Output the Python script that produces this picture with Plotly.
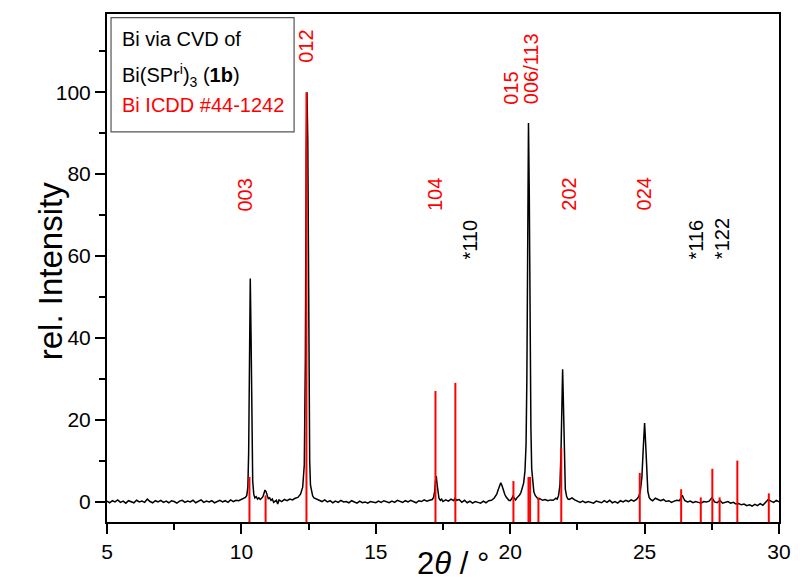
import plotly.graph_objects as go

# ---------------- data ----------------
two_theta = [
    5.0, 5.1, 5.2, 5.3, 5.4, 5.5, 5.6, 5.7, 5.8, 5.9, 6.0, 6.1, 6.2, 6.3, 6.4, 6.5, 6.6, 6.7, 6.8, 6.9,
    7.0, 7.1, 7.2, 7.3, 7.4, 7.5, 7.6, 7.7, 7.8, 7.9, 8.0, 8.1, 8.2, 8.3, 8.4, 8.5, 8.6, 8.7, 8.8, 8.9,
    9.0, 9.1, 9.2, 9.3, 9.4, 9.5, 9.6, 9.7, 9.8, 9.9, 10.0, 10.1,
    10.15, 10.2, 10.24, 10.27, 10.30, 10.33, 10.36, 10.39, 10.42, 10.46, 10.5, 10.55, 10.6, 10.65, 10.7,
    10.75, 10.8, 10.84, 10.88, 10.92, 10.96, 11.0, 11.05, 11.1, 11.15, 11.2, 11.3, 11.35, 11.4, 11.5,
    11.6, 11.7, 11.8, 11.9, 12.0, 12.1, 12.2, 12.28, 12.34, 12.38, 12.41, 12.44, 12.47, 12.50, 12.54,
    12.57, 12.61, 12.65, 12.7, 12.8,
    12.9, 13.0, 13.1, 13.2, 13.3, 13.4, 13.5, 13.6, 13.7, 13.8, 13.9, 14.0, 14.1, 14.2, 14.3, 14.4,
    14.5, 14.6, 14.7, 14.8, 14.9, 15.0, 15.1, 15.2, 15.3, 15.4, 15.5, 15.6, 15.7, 15.8, 15.9, 16.0,
    16.1, 16.2, 16.3, 16.4, 16.5, 16.6, 16.7, 16.8, 16.9, 17.0, 17.1,
    17.15, 17.19, 17.22, 17.25, 17.28, 17.31, 17.35, 17.4, 17.45, 17.5, 17.6, 17.7, 17.8, 17.9, 17.95,
    18.0, 18.1, 18.2, 18.3, 18.4, 18.5, 18.6, 18.7, 18.8, 18.9, 19.0, 19.1, 19.2, 19.3, 19.4, 19.5,
    19.55, 19.6, 19.65, 19.7, 19.75, 19.8, 19.85, 19.9, 19.95, 20.0, 20.05, 20.1, 20.15, 20.2, 20.25,
    20.3, 20.35, 20.4, 20.45, 20.5, 20.55, 20.59, 20.62, 20.65, 20.68, 20.71, 20.74, 20.77, 20.8, 20.84,
    20.88, 20.93, 21.0, 21.05, 21.1, 21.2, 21.3, 21.4, 21.5, 21.6, 21.7, 21.75, 21.8, 21.85, 21.89,
    21.92, 21.95, 21.98, 22.01, 22.05, 22.1, 22.15,
    22.2, 22.3, 22.4, 22.5, 22.6, 22.7, 22.8, 22.9, 23.0, 23.1, 23.2, 23.3, 23.4, 23.5, 23.6, 23.7,
    23.8, 23.9, 24.0, 24.1, 24.2, 24.3, 24.4, 24.5, 24.6, 24.7, 24.78, 24.84, 24.9, 24.95, 25.0, 25.04,
    25.08, 25.12, 25.17, 25.22, 25.3, 25.4, 25.5, 25.6, 25.7, 25.8, 25.9, 26.0, 26.1, 26.2, 26.3,
    26.35, 26.4, 26.45, 26.5, 26.6, 26.7, 26.8, 26.9, 27.0, 27.1, 27.2, 27.3, 27.4, 27.5, 27.55, 27.6,
    27.7, 27.8, 27.9, 28.0, 28.1, 28.2, 28.3, 28.4, 28.5, 28.6, 28.7, 28.8, 28.9, 29.0, 29.1, 29.2,
    29.3, 29.4, 29.5, 29.6, 29.7, 29.8, 29.9, 30.0,
]
intensity = [
    0.1, -0.3, 0.2, -0.1, 0.4, -0.2, 0.1, -0.4, 0.2, 0.0, -0.3, 0.3, -0.1, 0.1, -0.2, 0.6, 0.0, -0.3, 0.2, -0.1,
    0.3, -0.2, 0.1, -0.3, 0.2, 0.0, -0.4, 0.1, 0.3, -0.2, 0.1, -0.1, 0.3, -0.3, 0.0, 0.4, -0.2, 0.1, -0.1, 0.2,
    -0.3, 0.1, 0.3, -0.1, 0.2, -0.2, 0.4, 0.0, 0.3, 0.2, 0.5, 0.8,
    1.0, 1.5, 3.5, 12, 35, 54.5, 40, 15, 5, 1.8, 0.9, 1.2, 0.6, 0.9, 0.5,
    0.8, 1.2, 2.0, 2.8, 2.4, 1.3, 0.7, 0.9, 0.3, 0.6, -0.2, 0.3, -0.6, 0.4, 0.0,
    0.5, 0.2, 0.6, 0.4, 0.8, 1.0, 1.8, 3.5, 9, 35, 85, 100, 88, 40, 10,
    4, 2.2, 1.4, 0.9, 0.6,
    0.3, 0.0, 0.4, -0.1, 0.2, -0.3, 0.1, -0.2, 0.3, -0.1, 0.0, -0.3, 0.2, -0.2, -0.4, 0.1,
    -0.3, -0.1, -0.4, 0.0, -0.2, -0.3, 0.1, -0.2, 0.2, -0.1, -0.3, 0.1, -0.2, 0.3, 0.0, -0.2,
    0.2, -0.1, 0.3, 0.0, -0.3, 0.2, 0.0, 0.4, 0.1, 0.3, 0.5,
    1.0, 2.5, 5.0, 6.2, 4.2, 2.0, 0.8, 0.3, 0.6, 0.0, 0.4, 0.1, 0.6, 0.2, 0.8,
    0.3, 0.5, -0.2, 0.3, -0.3, 0.1, -0.4, 0.0, -0.2, -0.4, 0.1, -0.3, 0.2, 0.3, 0.8, 1.8,
    2.8, 4.0, 4.6, 3.8, 2.6, 1.7, 1.1, 0.6, 0.3, 0.2, 0.6, 1.3, 0.7, 0.4, 0.9,
    1.2, 1.6, 2.2, 3.2, 4.5, 7.5, 14, 30, 60, 92.5, 75, 40, 18, 8, 4,
    2.4, 1.5, 0.9, 0.5, 0.7, 0.3, 0.5, 0.2, 0.4, 0.3, 0.8, 0.6, 1.5, 4, 12,
    25, 32.3, 24, 10, 3, 1.2, 0.6,
    0.5, 0.9, 0.4, 0.1, -0.2, 0.1, -0.3, 0.0, -0.2, -0.4, 0.1, -0.1, -0.3, 0.2, -0.2, 0.3,
    -0.3, 0.0, -0.4, 0.2, -0.1, 0.3, 0.0, 0.4, 0.1, 0.5, 1.2, 2.5, 6, 13, 19.2, 14,
    6, 2.5, 1.0, 0.5, 0.2, 0.8, 0.5, 0.2, 0.5, 0.0, 0.2, -0.2, 0.1, 0.3, 0.2,
    0.9, 1.5, 0.8, 0.2, -0.1, 0.1, -0.3, 0.0, -0.2, -0.4, 0.0, -0.1, 0.1, 0.9, 0.5, -0.1,
    -0.3, 0.3, -0.4, -0.2, 0.0, -0.4, -0.2, -0.6, -0.5, -0.8, -0.6, -1.0, -0.8, -1.1, -0.7, -1.0,
    -0.5, -0.9, -0.3, 0.5, 0.1, -0.2, 0.3, -0.1,
]

# reference pattern Bi ICDD #44-1242 (stick positions / relative intensities)
ref_pos = [10.30, 10.90, 12.42, 17.22, 17.96, 20.12, 20.68, 20.74, 21.05, 21.90,
           24.82, 26.36, 27.09, 27.52, 27.79, 28.45, 29.62]
ref_int = [6, 1.5, 100, 27, 29, 5, 6, 6, 1, 13,
           7, 3, 1, 8, 1, 10, 2]

# reflection labels
lbl_text = ["003", "012", "104", "*110", "015", "006/113", "202", "024", "*116", "*122"]
lbl_x = [10.12, 12.42, 17.20, 18.49, 20.02, 20.75, 22.21, 24.99, 26.93, 27.88]
lbl_y = [74.9, 111.2, 75.1, 63.9, 101.0, 105.7, 75.1, 75.1, 64.1, 64.1]
lbl_color = ["red", "red", "red", "black", "red", "red", "red", "red", "black", "black"]

X_RANGE = [5, 30]
Y_RANGE = [-5.0, 119.1]

# ---------------- figure ----------------
fig = go.Figure()

# measured pattern
fig.add_trace(go.Scatter(x=two_theta, y=intensity, mode="lines",
                         line=dict(color="black", width=1.5), showlegend=False))

# stick pattern (drawn on top)
sx, sy = [], []
for p, h in zip(ref_pos, ref_int):
    sx += [p, p, None]
    sy += [Y_RANGE[0], h, None]
fig.add_trace(go.Scatter(x=sx, y=sy, mode="lines",
                         line=dict(color="#ff0000", width=2), hoverinfo="skip",
                         showlegend=False))

FONT = "Liberation Sans, Arial, sans-serif"

for t, x, y, c in zip(lbl_text, lbl_x, lbl_y, lbl_color):
    fig.add_annotation(x=x, y=y, xref="x", yref="y", text=t, textangle=-90,
                       showarrow=False, font=dict(family=FONT, size=20, color=c))

# legend box
fig.add_shape(type="rect", xref="x", yref="y", x0=5.15, x1=11.96, y0=90.3, y1=118.2,
              line=dict(color="#555555", width=1.2), fillcolor="white", layer="above")
legend_lines = [
    ("Bi via CVD of", 112.9, "black"),
    ("Bi(SPr<sup>i</sup>)<sub>3</sub> (<b>1b</b>)", 104.0, "black"),
    ("Bi ICDD #44-1242", 96.8, "red"),
]
for t, y, c in legend_lines:
    fig.add_annotation(x=5.5, y=y, xref="x", yref="y", text=t, xanchor="left",
                       yanchor="middle", showarrow=False,
                       font=dict(family=FONT, size=20, color=c))

# axis titles
fig.add_annotation(x=0.515, y=-0.082, xref="paper", yref="paper",
                   text="2<i>θ</i> / °", showarrow=False, yanchor="middle",
                   font=dict(family=FONT, size=31, color="black"))
fig.add_annotation(x=-0.115, y=0.494, xref="paper", yref="paper",
                   text="rel. Intensity", showarrow=False, textangle=-90,
                   font=dict(family=FONT, size=33, color="black"))

axis_common = dict(showgrid=False, zeroline=False, showline=True, linecolor="black",
                   linewidth=2, mirror=True, ticks="outside", tickcolor="black",
                   tickwidth=1.5, ticklen=10,
                   tickfont=dict(family=FONT, size=21, color="black"))
fig.update_xaxes(range=X_RANGE, tickmode="array", tickvals=[5, 10, 15, 20, 25, 30],
                 minor=dict(tickvals=[7.5, 12.5, 17.5, 22.5, 27.5], ticklen=6,
                            tickcolor="black", tickwidth=1.5, ticks="outside"),
                 **axis_common)
fig.update_yaxes(range=Y_RANGE, tickmode="array", tickvals=[0, 20, 40, 60, 80, 100],
                 minor=dict(tickvals=[10, 30, 50, 70, 90, 110], ticklen=6,
                            tickcolor="black", tickwidth=1.5, ticks="outside"),
                 **axis_common)

fig.update_layout(width=803, height=584, margin=dict(l=107, r=12, t=12, b=62),
                  plot_bgcolor="white", paper_bgcolor="white",
                  font=dict(family=FONT, color="black"))

fig.write_html("out.html", config={"displayModeBar": False},
               post_script="document.body.style.margin='0px';")
